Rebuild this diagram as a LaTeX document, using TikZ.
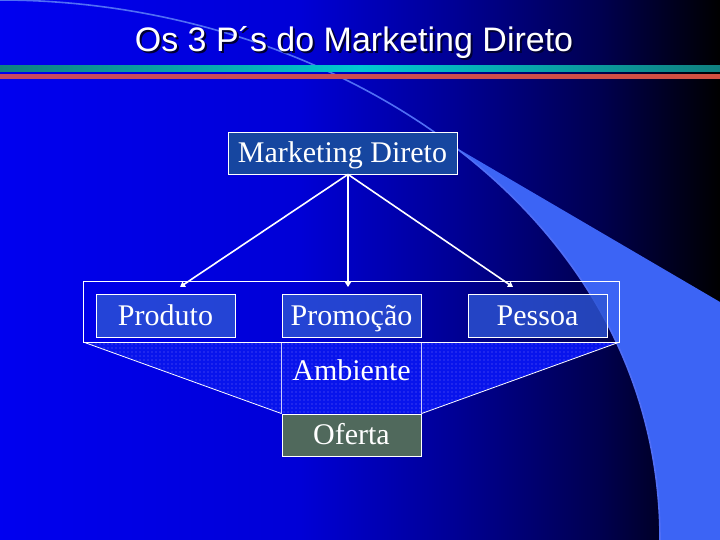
\documentclass[tikz,border=0pt]{standalone}
\usepackage{fontspec}
\setmainfont{Liberation Serif}
\newfontfamily\titlefont{Liberation Sans}
\usetikzlibrary{arrows.meta,patterns}
\definecolor{mdfill}{RGB}{22,70,160}
\definecolor{pfill}{RGB}{45,85,212}
\definecolor{ofertafill}{RGB}{80,105,92}
\definecolor{swoosh}{RGB}{60,100,245}
\definecolor{swooshline}{RGB}{80,110,245}
\definecolor{dotbase}{RGB}{8,20,236}
\definecolor{dotcol}{RGB}{110,105,245}
\definecolor{tealdark}{RGB}{16,128,128}
\definecolor{tealbright}{RGB}{0,200,210}
\definecolor{redleft}{RGB}{200,72,96}
\definecolor{redright}{RGB}{210,80,64}
\pgfdeclarehorizontalshading{slidebg}{100bp}{rgb(0bp)=(0,0,.94); rgb(25bp)=(0,0,.94);
  rgb(45.8bp)=(0,0,.84); rgb(56.25bp)=(0,0,.59); rgb(66.7bp)=(0,0,.31);
  rgb(75bp)=(0,0,0); rgb(100bp)=(0,0,0)}
\pgfdeclarepatternformonly{sparsedots}{\pgfqpoint{-1pt}{-1pt}}{\pgfqpoint{1pt}{1pt}}%
  {\pgfqpoint{4pt}{4pt}}{\pgfpathcircle{\pgfqpoint{0pt}{0pt}}{.6pt}\pgfusepath{fill}}
\newcommand{\tituloslide}{Os 3 P´s do Marketing Direto}
\tikzset{
  pbox/.style={draw=white, line width=0.8pt, fill=pfill, fill opacity=0.8,
    text opacity=1, text=white, minimum width=139pt, minimum height=43pt,
    inner sep=0pt, text height=22pt, text depth=3pt,
    font=\fontsize{30}{36}\selectfont},
  mdbox/.style={pbox, fill=mdfill, fill opacity=1, minimum width=229pt,
    minimum height=42pt},
  seta/.style={white, line width=1.6pt, -{Triangle[width=6pt,length=5pt]}}
}
\begin{document}
\begin{tikzpicture}[x=1pt,y=-1pt]
  \useasboundingbox (0,0) rectangle (720,540);
  % slide background
  \shade[shading=slidebg] (0,0) rectangle (720,540);
  \fill[swoosh] (453.75,146.25) -- (720,302) -- (720,540) -- (660,540)
    .. controls (660,375) and (577.5,240) .. cycle;
  \draw[swooshline, line width=1.6pt] (0,0) .. controls (330,0) and (660,210) .. (660,540);
  \shade[left color=tealdark, right color=tealdark, middle color=tealbright]
    (0,66) rectangle (720,72);
  \shade[left color=redleft, right color=redright] (0,74.5) rectangle (720,79);
  % title, with its shadow
  \node[anchor=base, text=white, font=\titlefont\fontsize{34}{40}\selectfont] (title)
    at (354,52) {\makebox[0pt][l]{\kern2pt\raisebox{-2pt}{\textcolor{black!80!blue}{\tituloslide}}}\tituloslide};
  % diagram
  \node[minimum width=535pt, minimum height=60pt, inner sep=0pt] (frame) at (351.5,312) {};
  \node[pbox, fill=ofertafill, fill opacity=1, minimum height=42pt] (oferta) at (351.5,435) {Oferta};
  \fill[dotbase] (frame.south west) -- (frame.south east) -- (oferta.north east)
    -- (oferta.north west) -- cycle;
  \fill[pattern=sparsedots, pattern color=dotcol] (frame.south west) -- (frame.south east)
    -- (oferta.north east) -- (oferta.north west) -- cycle;
  \draw[white, line width=0.8pt] (frame.south west) -- (oferta.north west)
    (frame.south east) -- (oferta.north east);
  \draw[white!80!blue, line width=0.6pt] (oferta.north west) -- (oferta.north west |- frame.south)
    (oferta.north east) -- (oferta.north east |- frame.south);
  \draw[white, line width=1pt] (frame.south west) rectangle (frame.north east);
  \node[text=white, font=\fontsize{30}{36}\selectfont, text height=22pt, text depth=3pt,
    inner sep=0pt] (ambiente) at (351.5,370.5) {Ambiente};
  \node[pbox] (produto) at (165.5,315.5) {Produto};
  \node[pbox] (promocao) at (351.5,315.5) {Promoção};
  \node[pbox] (pessoa) at (537.5,315.5) {Pessoa};
  \node[mdbox] (md) at (342.5,153) {Marketing Direto};
  \coordinate (toProduto) at (180,287);
  \coordinate (toPromocao) at (348,287);
  \coordinate (toPessoa) at (513,287);
  \foreach \alvo in {toProduto,toPromocao,toPessoa}
    \draw[seta] ([xshift=5.5pt]md.south) -- (\alvo);
\end{tikzpicture}
\end{document}
